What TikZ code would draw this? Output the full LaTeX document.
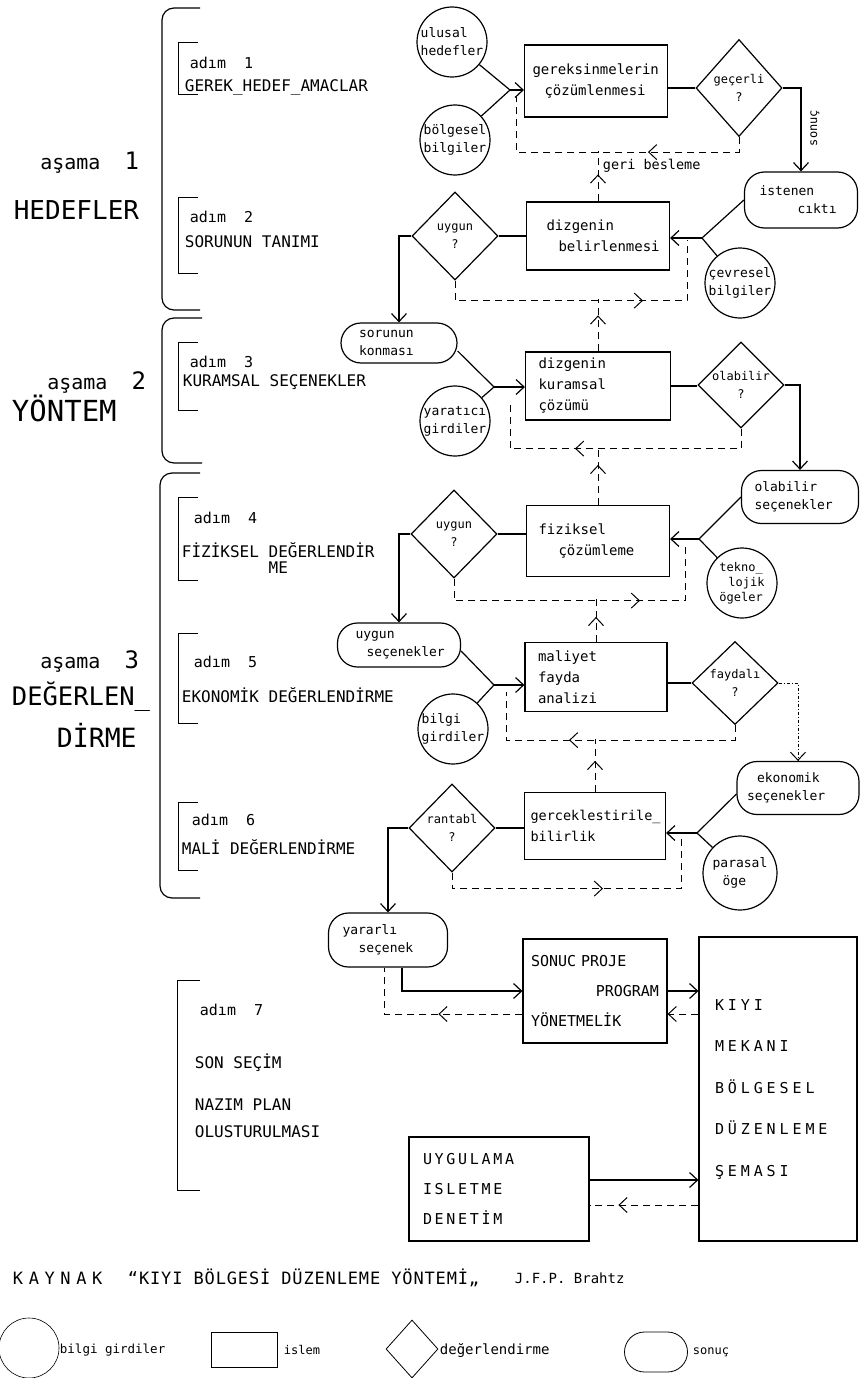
\documentclass[tikz,border=0pt]{standalone}
\usepackage{fontspec}
\setmainfont{DejaVu Sans Mono}
\usetikzlibrary{positioning, arrows.meta, shapes.geometric, decorations.markings}

\hyphenpenalty=10000
\exhyphenpenalty=10000

\newcommand{\soru}[1]{\makebox[0pt]{#1}\\\makebox[0pt]{?}}

\begin{document}
\begin{tikzpicture}[
    x=1pt, y=-1pt,
    line width=1.2pt,
    box/.style={
        draw,
        inner xsep=8pt,
        text width=#1,
        align=left,
        font=\fontsize{14}{21}\selectfont
    },
    inp/.style={
        draw,
        circle,
        inner sep=0pt,
        minimum size=70pt,
        align=left,
        font=\fontsize{13}{18}\selectfont
    },
    dec/.style={
        draw,
        diamond,
        inner sep=0pt,
        minimum width=86pt,
        minimum height=88pt,
        align=center,
        font=\fontsize{12}{18}\selectfont
    },
    res/.style={
        draw,
        rounded corners=20pt,
        inner xsep=10pt,
        inner ysep=0pt,
        text width=#1,
        align=left,
        font=\fontsize{13}{18}\selectfont
    },
    arrow/.style={
        -{Straight Barb[length=8pt, width=15pt]}
    },
    feedback/.style={
        line width=1pt,
        dash pattern=on 7pt off 5pt
    },
    backtip/.style={
        postaction={solid, decorate},
        decoration={markings, mark=at position #1 with {\arrow{Straight Barb[length=8pt, width=15pt]}}}
    },
    asama/.style={
        anchor=east,
        font=\fontsize{20}{20}\selectfont
    },
    adim/.style={
        anchor=west,
        font=\fontsize{15}{15}\selectfont
    },
    adimbaslik/.style={
        anchor=west,
        font=\fontsize{16}{16}\selectfont
    }
]

\path[use as bounding box, fill=white] (0,0) rectangle (859,1378);

\draw[rounded corners=12pt] (200,8) -- (162,8) -- (162,310) -- (200,310);
\draw[rounded corners=12pt] (202,318) -- (162,318) -- (162,463) -- (202,463);
\draw[rounded corners=12pt] (200,473) -- (160,473) -- (160,898) -- (200,898);

\draw[line width=1pt] (198,43) -- (178,43) -- (178,95) -- (198,95);
\draw[line width=1pt] (198,197) -- (178,197) -- (178,273) -- (198,273);
\draw[line width=1pt] (198,342) -- (178,342) -- (178,410) -- (198,410);
\draw[line width=1pt] (198,497) -- (178,497) -- (178,580) -- (198,580);
\draw[line width=1pt] (198,633) -- (178,633) -- (178,723) -- (198,723);
\draw[line width=1pt] (198,802) -- (178,802) -- (178,870) -- (198,870);
\draw[line width=1pt] (200,980) -- (177,980) -- (177,1190) -- (200,1190);

\node[asama] (asama1) at (143,163) {aşama~~{\fontsize{24}{24}\selectfont 1}};
\node[anchor=east, font=\fontsize{26}{26}\selectfont] (hedefler) at (143,210) {HEDEFLER};
\node[asama] (asama2) at (150,383) {aşama~~{\fontsize{24}{24}\selectfont 2}};
\node[anchor=west, font=\fontsize{29}{29}\selectfont] (yontem) at (8,408) {YÖNTEM};
\node[asama] (asama3) at (143,662) {aşama~~{\fontsize{24}{24}\selectfont 3}};
\node[anchor=west, font=\fontsize{25.5}{25.5}\selectfont] (degerlen) at (8,697) {DEĞERLEN\_};
\node[anchor=west, font=\fontsize{26.5}{26.5}\selectfont] (dirme) at (53,735) {DİRME};

\node[adim] (adim1) at (186,63) {adım~~1};
\node[adimbaslik] (gerek) at (181,87) {GEREK\_HEDEF\_AMACLAR};
\node[adim] (adim2) at (186,217) {adım~~2};
\node[adimbaslik] (tanim) at (181,242) {SORUNUN TANIMI};
\node[adim] (adim3) at (186,362) {adım~~3};
\node[adimbaslik] (kuramsalsec) at (179,382) {KURAMSAL SEÇENEKLER};
\node[adim] (adim4) at (190,518) {adım~~4};
\node[adimbaslik, align=center] (fizikseldeg) at (178,558) {FİZİKSEL DEĞERLENDİR\\ME};
\node[adim] (adim5) at (190,662) {adım~~5};
\node[adimbaslik] (ekonomikdeg) at (178,695) {EKONOMİK DEĞERLENDİRME};
\node[adim] (adim6) at (188,820) {adım~~6};
\node[adimbaslik] (malideg) at (178,847) {MALİ DEĞERLENDİRME};
\node[adim] (adim7) at (196,1010) {adım~~7};
\node[adimbaslik] (sonsecim) at (191,1063) {SON SEÇİM};
\node[adimbaslik, align=left, font=\fontsize{16}{27}\selectfont] (nazim) at (191,1118) {NAZIM PLAN\\OLUSTURULMASI};

\coordinate (j1) at (510,90);
\coordinate (j2) at (702,238);
\coordinate (j3) at (494,387);
\coordinate (j4) at (699,539);
\coordinate (j5) at (494,685);
\coordinate (j6) at (697,833);
\coordinate (fb1) at (516,97);
\coordinate (fb2) at (687,240);
\coordinate (fb3) at (510,400);
\coordinate (fb4) at (685,543);
\coordinate (fb5) at (506,692);
\coordinate (fb6) at (681,835);
\coordinate (lane1) at (0,1014);
\coordinate (lane2) at (0,1205);
\coordinate (lane3) at (0,1180);

\node[inp] (ulusal) at (452,42) {ulusal\\hedefler};
\node[inp] (bolgesel) at (455,140) {bölgesel\\bilgiler};
\node[box=127pt, minimum height=72pt] (gereksinme) at (596,81) {gereksinmelerin\\\hspace*{12pt}çözümlenmesi};
\node[dec, minimum height=97pt] (gecerli) at (739,88) {\soru{geçerli}};
\node[res=93pt, minimum height=56pt] (istenen) at (801,200) {\hspace*{5pt}istenen\\\hspace*{43pt}cıktı};
\node[rotate=90, font=\fontsize{12}{12}\selectfont] (sonucetiket) at (815,128) {sonuç};

\node[inp] (cevresel) at (740,283) {çevresel\\bilgiler};
\node[box=127pt, minimum height=68pt] (belirleme) at (598,236) {\hspace*{12pt}dizgenin\\\hspace*{24pt}belirlenmesi};
\node[dec] (uygunA) at (455,236) {\soru{uygun}};
\node[anchor=west, font=\fontsize{13.5}{13.5}\selectfont] (geri) at (599,166) {geri besleme};

\node[res=96pt, minimum height=40pt] (sorunun) at (399,343) {\hspace*{8pt}sorunun\\\hspace*{8pt}konması};
\node[inp] (yaratici) at (455,421) {yaratıcı\\girdiler};
\node[box=129pt, minimum height=68pt] (kuramsal) at (598,386) {\hspace*{5pt}dizgenin\\\hspace*{5pt}kuramsal\\\hspace*{5pt}çözümü};
\node[dec, minimum height=86pt] (olabilir) at (741,385) {\soru{olabilir}};
\node[res=97pt, minimum height=53pt] (olabilirsec) at (800,497) {\hspace*{3pt}olabilir\\\hspace*{3pt}seçenekler};

\node[inp, font=\fontsize{12}{15}\selectfont] (teknolojik) at (742,583) {tekno\_\\\hspace*{9pt}lojik\\ögeler};
\node[box=127pt, minimum height=71pt] (fiziksel) at (598,541) {\hspace*{4pt}fiziksel\\\hspace*{24pt}çözümleme};
\node[dec] (uygunB) at (454,534) {\soru{uygun}};
\node[res=103pt, minimum height=44pt] (uygunsec) at (399,645) {\hspace*{8pt}uygun\\\hspace*{19pt}seçenekler};

\node[inp] (bilgi) at (453,729) {bilgi\\girdiler};
\node[box=126pt, minimum height=69pt] (maliyet) at (596,677) {\hspace*{5pt}maliyet\\\hspace*{5pt}fayda\\\hspace*{5pt}analizi};
\node[dec, minimum height=83pt] (faydali) at (735,683) {\soru{faydalı}};
\node[res=102pt, minimum height=53pt] (ekonomik) at (798,788) {\hspace*{10pt}ekonomik\\seçenekler};

\node[inp, minimum size=74pt] (parasal) at (740,873) {parasal\\\hspace*{10pt}öge};
\node[box=125pt, minimum height=67pt, font=\fontsize{13.5}{21}\selectfont] (gercek) at (595,826) {\hspace*{-2pt}gerceklestirile\_\\\hspace*{-2pt}bilirlik};
\node[dec] (rantabl) at (452,828) {\soru{rantabl}};
\node[res=99pt, minimum height=54pt] (yararli) at (388,940) {\hspace*{4pt}yararlı\\\hspace*{20pt}seçenek};

\node[box=128pt, minimum height=104pt, font=\fontsize{15}{30}\selectfont] (sonucproje) at (595,991) {SONUC PROJE\\\hspace*{\fill}PROGRAM\\YÖNETMELİK};
\node[box=126pt, inner xsep=16pt, minimum height=304pt, font=\fontsize{15}{41.5}\selectfont\addfontfeatures{LetterSpace=26}] (kiyi) at (778,1089) {KIYI\\MEKANI\\BÖLGESEL\\DÜZENLEME\\ŞEMASI};
\node[box=164pt, minimum height=104pt, font=\fontsize{15}{30}\selectfont\addfontfeatures{LetterSpace=18}] (uygulama) at (499,1189) {\hspace*{6pt}UYGULAMA\\\hspace*{6pt}ISLETME\\\hspace*{6pt}DENETİM};

\draw (ulusal) -- (j1);
\draw (bolgesel) -- (j1);
\draw[arrow] (j1) -- (j1 -| gereksinme.west);
\draw (gecerli.west) -- (gecerli.west -| gereksinme.east);
\draw[arrow] (gecerli.east) -| (istenen.north);
\draw[feedback, backtip=106pt] (gecerli.south) -- ++(0,15) -| (fb1);

\draw (istenen.west) -- (j2);
\draw (cevresel) -- (j2);
\draw[arrow] (j2) -- (j2 -| belirleme.east);
\draw (belirleme.west) -- (uygunA.east);
\draw[arrow] (uygunA.west) -| (sorunun.north);
\draw[feedback, backtip=208pt] (uygunA.south) -- ++(0,20) -| (fb2);
\draw[feedback, backtip=27pt] (belirleme.north) -- ++(0,-50);

\draw ([yshift=-8pt]sorunun.east) -- (j3);
\draw (yaratici) -- (j3);
\draw[arrow] (j3) -- (j3 -| kuramsal.west);
\draw (kuramsal.east) -- (kuramsal.east -| olabilir.west);
\draw[arrow] (olabilir.east) -| (olabilirsec.north);
\draw[feedback, backtip=186pt] (olabilir.south) -- ++(0,20) -| (fb3);
\draw[feedback, backtip=36pt] (kuramsal.north) -- ++(0,-52);

\draw (olabilirsec.west) -- (j4);
\draw (teknolojik) -- (j4);
\draw[arrow] (j4) -- (j4 -| fiziksel.east);
\draw (uygunB.east) -- (uygunB.east -| fiziksel.west);
\draw[arrow] (uygunB.west) -| (uygunsec.north);
\draw[feedback, backtip=208pt] (uygunB.south) -- ++(0,22) -| (fb4);
\draw[feedback, backtip=40pt] (fiziksel.north) -- ++(0,-58);

\draw ([yshift=-6pt]uygunsec.east) -- (j5);
\draw (bilgi) -- (j5);
\draw[arrow] (j5) -- (j5 -| maliyet.west);
\draw (faydali.west) -- (faydali.west -| maliyet.east);
\draw[arrow, line width=1pt, dash dot] (faydali.east) -| (ekonomik.north);
\draw[feedback, backtip=181pt] (faydali.south) -- ++(0,15) -| (fb5);
\draw[feedback, backtip=25pt] (maliyet.north) -- ++(0,-43);

\draw ([yshift=-6pt]ekonomik.west) -- (j6);
\draw (parasal) -- (j6);
\draw[arrow] (j6) -- (j6 -| gercek.east);
\draw (rantabl.east) -- (rantabl.east -| gercek.west);
\draw[arrow] (rantabl.west) -| (yararli.north);
\draw[feedback, backtip=167pt] (rantabl.south) -- ++(0,16) -| (fb6);
\draw[feedback, backtip=31pt] (gercek.north) -- ++(0,-53);

\draw[arrow] ([xshift=14pt]yararli.south) |- (sonucproje.west);
\draw[feedback, backtip=84pt] (sonucproje.west |- lane1) -| ([xshift=-4pt]yararli.south);
\draw[arrow] (sonucproje.east) -- (sonucproje.east -| kiyi.west);
\draw[feedback, arrow] (kiyi.west |- lane1) -- (sonucproje.east |- lane1);
\draw[arrow] (uygulama.east |- lane3) -- (kiyi.west |- lane3);
\draw[feedback, backtip=80pt] (kiyi.west |- lane2) -- (uygulama.east |- lane2);

\node[anchor=west, font=\fontsize{17}{17}\selectfont\addfontfeatures{LetterSpace=33}] (kaynak) at (9,1278) {KAYNAK};
\node[anchor=west, font=\fontsize{17}{17}\selectfont\addfontfeatures{LetterSpace=5}] (baslik) at (124,1278) {“KIYI BÖLGESİ DÜZENLEME YÖNTEMİ„};
\node[anchor=west, font=\fontsize{14}{14}\selectfont] (yazar) at (511,1278) {J.F.P. Brahtz};

\node[inp, minimum size=60pt, line width=0.6pt] (legcirc) at (29,1348) {};
\node[anchor=west, font=\fontsize{12.5}{12.5}\selectfont] (legcirctext) at (56,1350) {bilgi girdiler};
\node[draw, line width=0.8pt, minimum width=66pt, minimum height=35pt] (legbox) at (244,1350) {};
\node[anchor=west, font=\fontsize{12}{12}\selectfont] (legboxtext) at (280,1350) {islem};
\node[dec, line width=0.8pt, minimum width=52pt, minimum height=58pt] (legdia) at (412,1349) {};
\node[anchor=west, font=\fontsize{14}{14}\selectfont] (legdiatext) at (436,1350) {değerlendirme};
\node[res=43pt, line width=0.8pt, minimum height=40pt] (legres) at (656,1352) {};
\node[anchor=west, font=\fontsize{12}{12}\selectfont] (legrestext) at (689,1352) {sonuç};

\end{tikzpicture}
\end{document}
